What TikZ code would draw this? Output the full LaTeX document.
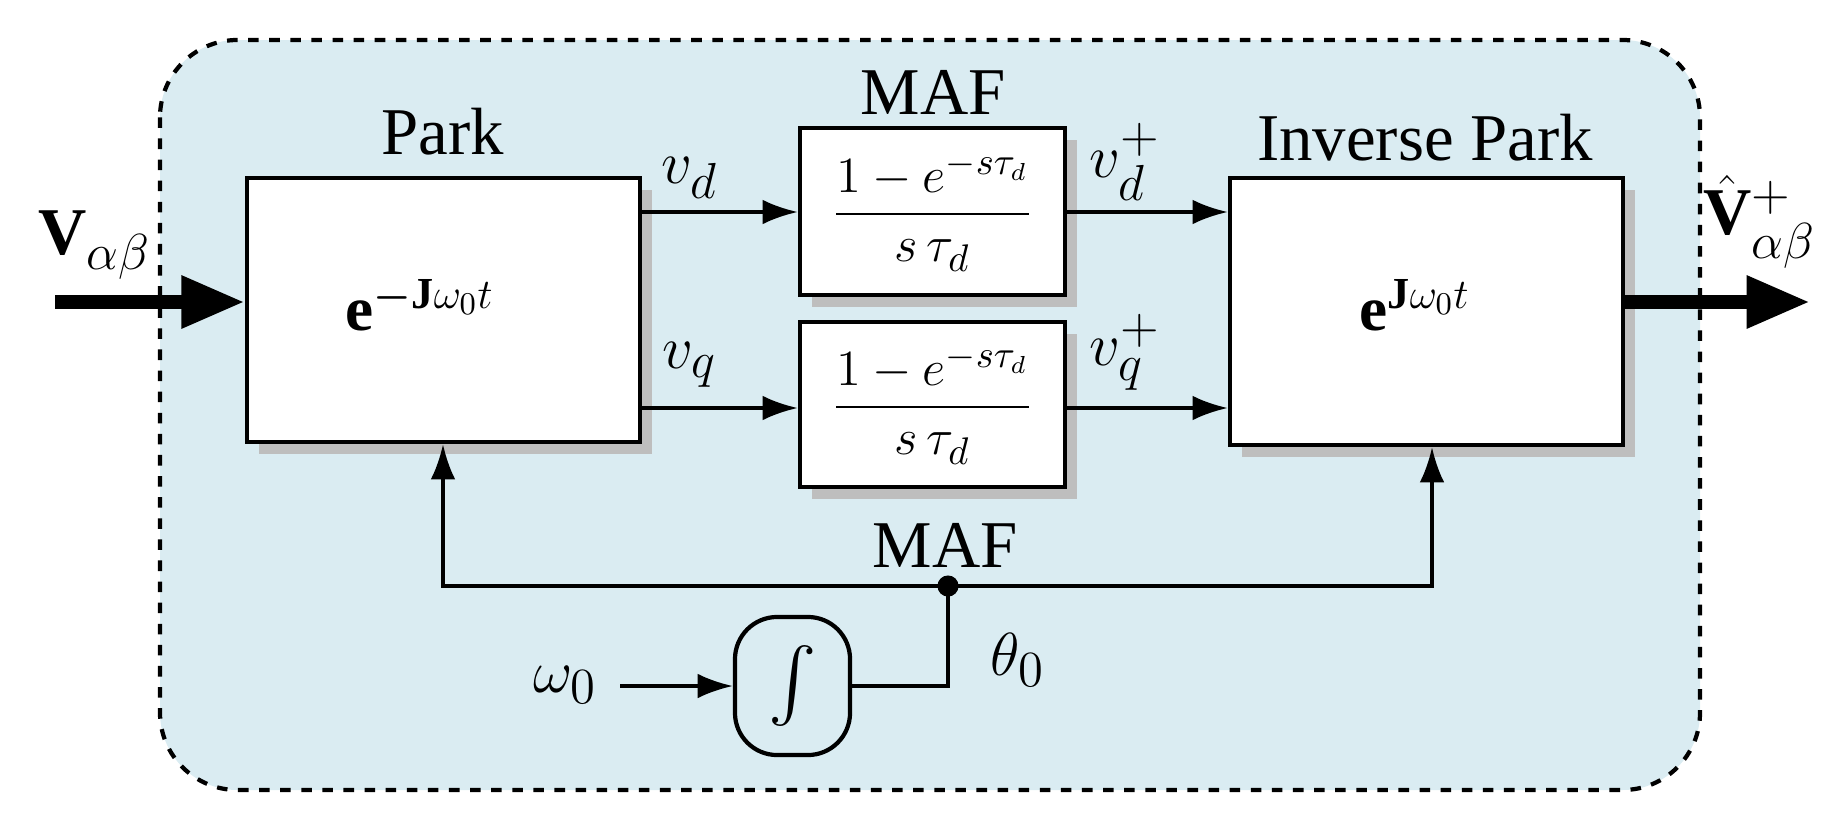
\documentclass[tikz,border=0pt]{standalone}
\usepackage{fontspec}
\setmainfont{Liberation Serif}
\usepackage{amsmath}
\usetikzlibrary{arrows.meta}
\definecolor{bg}{RGB}{218,236,242}
\definecolor{sh}{RGB}{190,190,190}
\begin{document}
\begin{tikzpicture}[x=0.01cm,y=-0.01cm,
 blk/.style={draw,line width=1.2pt,fill=white},
 lbl/.style={font=\fontsize{19}{22}\selectfont},
 frc/.style={font=\fontsize{15}{18}\selectfont},
 ar/.style={line width=1pt,-{Latex[length=10pt,width=7pt]}},
 big/.style={line width=4pt,-{Triangle[length=18pt,width=14pt]}}]
\useasboundingbox (0,0) rectangle (1846,818);
\draw[dashed,line width=1.2pt,fill=bg,rounded corners=22pt] (160,40) rectangle (1700,790);
% shadows
\foreach \a/\b/\c/\d in {247/178/640/442,800/128/1065/295,800/322/1065/487,1230/178/1623/445}
  \fill[sh] (\a+12,\b+12) rectangle (\c+12,\d+12);
\node[blk,minimum width=3.93cm,minimum height=2.64cm] (park) at (443.5,310) {};
\node[font=\fontsize{18}{22}\selectfont] at (420,305) {$\mathbf{e}^{\boldsymbol{-}\mathbf{J}\omega_0 t}$};
\node[blk,minimum width=2.65cm,minimum height=1.67cm] (m1) at (932.5,211.5) {};
\node[frc] at (932.5,211.5) {$\dfrac{1-e^{-s\tau_d}}{s\,\tau_d}$};
\node[blk,minimum width=2.65cm,minimum height=1.65cm] (m2) at (932.5,404.5) {};
\node[frc] at (932.5,404.5) {$\dfrac{1-e^{-s\tau_d}}{s\,\tau_d}$};
\node[blk,minimum width=3.93cm,minimum height=2.67cm] (ip) at (1426.5,311.5) {};
\node[font=\fontsize{18}{22}\selectfont] at (1415,305) {$\mathbf{e}^{\mathbf{J}\omega_0 t}$};
\node[draw,line width=1.2pt,rounded corners=12pt,fill=bg,minimum width=1.15cm,minimum height=1.38cm] (int) at (792.5,686) {};
\node[font=\fontsize{22}{26}\selectfont] at (792.5,686) {$\int$};
% labels
\node[lbl] at (443,132) {Park};
\node[lbl] at (933,92) {MAF};
\node[lbl] at (1425,138) {Inverse Park};
\node[lbl] at (945,545) {MAF};
\node[lbl] at (95,245) {$\mathbf{V}_{\alpha\beta}$};
\node[lbl] at (1760,222) {$\hat{\mathbf{V}}^{+}_{\alpha\beta}$};
\node[lbl] at (690,178) {$v_d$};
\node[lbl] at (690,365) {$v_q$};
\node[lbl] at (1125,162) {$v_d^{+}$};
\node[lbl] at (1125,352) {$v_q^{+}$};
\node[lbl] at (1018,660) {$\theta_0$};
\node[lbl] at (565,685) {$\omega_0$};
% connectors
\coordinate (in) at (55,302); \coordinate (out) at (1810,302);
\draw[big] (in) -- (park.west|-in);
\draw[big] (ip.east|-out) -- (out);
\draw[ar] (640,212) -- (m1.west|-0,212);
\draw[ar] (640,408) -- (m2.west|-0,408);
\draw[ar] (1065,212) -- (ip.west|-0,212);
\draw[ar] (1065,408) -- (ip.west|-0,408);
\coordinate (dot) at (948,586);
\coordinate (w) at (620,686);
\draw[ar] (w) -- (int.west);
\draw[line width=1pt] (int.east) -| (dot);
\draw[ar] (dot) -| (park.south-|443,0);
\draw[ar] (dot) -| (ip.south-|1432,0);
\fill (dot) circle (3pt);
\end{tikzpicture}
\end{document}
